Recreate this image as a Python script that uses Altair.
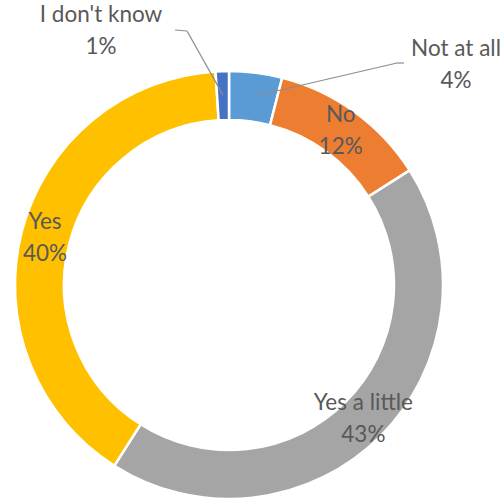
import altair as alt
import pandas as pd

# ---- data ----
categories = ["Not at all", "No", "Yes a little", "Yes", "I don't know"]
values = [4, 12, 43, 40, 1]
colors = ["#5B9BD5", "#ED7D31", "#A5A5A5", "#FFC000", "#4472C4"]
inside_label = [False, True, True, True, False]

# ---- layout ----
W, H = 504, 502
CX, CY = 229, 285
R_OUT, R_IN, R_LAB = 214, 165, 190
FONT = "Lato"
FSIZE = 22.5
LH = 32
TXT = "#595959"
# outside annotation anchors: text block centre, leader elbow, leader end
outside = {
    "Not at all": dict(tx=456, ty=65, ex=397, ey=63, hx=404, hy=63),
    "I don't know": dict(tx=101, ty=31, ex=187, ey=31, hx=175, hy=30),
}

df = pd.DataFrame({
    "category": categories,
    "value": values,
    "order": list(range(len(categories))),
    "label": [f"{c}\n{v}%" for c, v in zip(categories, values)],
    "inside": inside_label,
})
ann = pd.DataFrame([dict(category=k, **v) for k, v in outside.items()])

theta = alt.Theta("value:Q", stack=True)
order = alt.Order("order:Q")

arcs = alt.Chart(df).mark_arc(
    outerRadius=R_OUT, innerRadius=R_IN, stroke="white", strokeWidth=2.5
).encode(
    theta=theta,
    order=order,
    color=alt.Color("category:N", scale=alt.Scale(domain=categories, range=colors), legend=None),
    x=alt.value(CX),
    y=alt.value(CY),
)

inner_text = alt.Chart(df).transform_calculate(
    txt="datum.inside ? datum.label : ''"
).mark_text(
    radius=R_LAB, font=FONT, fontSize=FSIZE, color=TXT, lineBreak="\n",
    lineHeight=LH, align="center", baseline="middle", dy=-LH / 2,
).encode(
    theta=theta,
    order=order,
    text="txt:N",
    x=alt.value(CX),
    y=alt.value(CY),
)

lead = alt.Chart(df).transform_window(
    cum="sum(value)", sort=[alt.SortField("order")], frame=[None, 0]
).transform_joinaggregate(
    total="sum(value)"
).transform_calculate(
    ang="2*PI*(datum.cum - datum.value/2)/datum.total"
).transform_calculate(
    px=f"{CX} + {R_LAB}*sin(datum.ang)",
    py=f"{CY} - {R_LAB}*cos(datum.ang)",
).transform_lookup(
    lookup="category",
    from_=alt.LookupData(data=ann, key="category", fields=["tx", "ty", "ex", "ey", "hx", "hy"]),
).transform_filter("isValid(datum.ex)")

seg1 = lead.mark_rule(color="#8c8c8c", strokeWidth=1.2).encode(
    x=alt.X("px:Q", scale=None, axis=None),
    y=alt.Y("py:Q", scale=None, axis=None),
    x2="ex:Q",
    y2="ey:Q",
)
seg2 = lead.mark_rule(color="#8c8c8c", strokeWidth=1.2).encode(
    x=alt.X("ex:Q", scale=None, axis=None),
    y=alt.Y("ey:Q", scale=None, axis=None),
    x2="hx:Q",
    y2="hy:Q",
)
out_text = lead.mark_text(
    font=FONT, fontSize=FSIZE, color=TXT, lineBreak="\n", lineHeight=LH,
    align="center", baseline="middle", dy=-LH / 2,
).encode(
    x=alt.X("tx:Q", scale=None, axis=None),
    y=alt.Y("ty:Q", scale=None, axis=None),
    text="label:N",
)

chart = alt.layer(arcs, inner_text, seg1, seg2, out_text).properties(
    width=W, height=H, padding=0, autosize=alt.AutoSizeParams(type="none")
).configure_view(stroke=None)

chart.save("out.html", embed_options={"renderer": "svg", "actions": False})
